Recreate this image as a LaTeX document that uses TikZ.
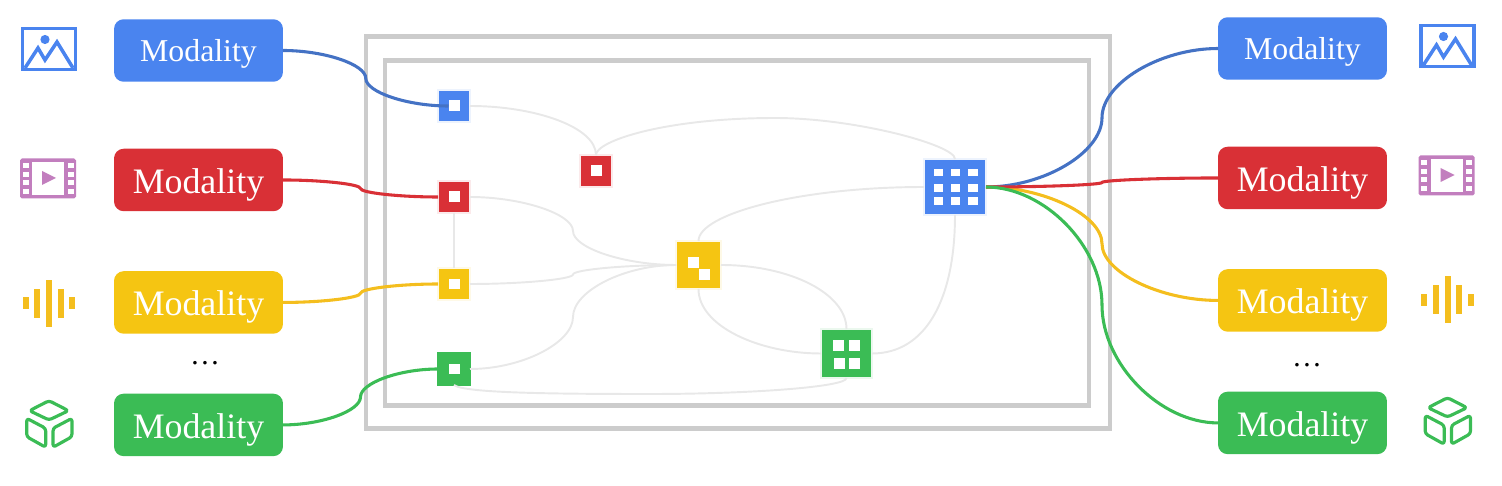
\documentclass[tikz,border=0pt]{standalone}
\usepackage{fontspec}
\setmainfont{Liberation Serif}
\usepackage{xcolor}
\usetikzlibrary{calc, positioning}
\definecolor{mBlue}{HTML}{4A84EF}
\definecolor{mRed}{HTML}{D93036}
\definecolor{mYellow}{HTML}{F5C512}
\definecolor{mGreen}{HTML}{3BBC55}
\definecolor{mPurple}{HTML}{C27EBE}
\definecolor{mWireBlue}{HTML}{4472C4}
\definecolor{mWireYellow}{HTML}{F4BE1E}
\definecolor{mFrame}{HTML}{CCCCCC}
\definecolor{mPale}{HTML}{E8E8E8}
% two bends that meet half way, vertical at the middle
\newcommand{\bump}[3]{
  \coordinate (mid) at ($(#1)!.5!(#2)$);
  \draw[#3] (#1) .. controls ($(#1)!.5!(mid |- #1)$) and ($(mid)!.5!(mid |- #1)$) .. (mid)
    .. controls ($(mid)!.5!(mid |- #2)$) and ($(#2)!.5!(mid |- #2)$) .. (#2);
}
\begin{document}
\begin{tikzpicture}[
  x=0.02cm, y=-0.02cm,
  node distance=1.2cm and 0.36cm,
  modbox/.style={fill=#1, rounded corners=5.5pt, minimum width=3.38cm, minimum height=1.25cm,
                 inner sep=0pt, outer sep=0pt, text=white, text height=15.3pt, text depth=0pt,
                 font=\fontsize{20.4}{24}\selectfont},
  smallbox/.style={modbox=#1, text height=12.7pt, font=\fontsize{18.1}{22}\selectfont},
  unit/.style={rectangle, fill=#1, draw=#1!10, line width=1.13pt, inner sep=0pt, outer sep=0pt,
               minimum size=0.64cm},
  cell/.style={fill=white, inner sep=0pt, outer sep=0pt, minimum size=0.22cm},
  wire/.style={line width=1.75pt, #1},
  soft/.style={line width=1.1pt, mPale},
  frame/.style={draw=mFrame, line width=2.8pt},
  pics/imgicon/.style={code={
    \draw[#1, line width=2pt] (-26.5,-20.5) rectangle (26.5,20.5);
    \draw[#1, line width=2pt] (-24,19) -- (-11,-1) -- (-4,11) -- (8,-7) -- (24,19);
    \fill[#1] (-4,-9.5) circle (4.6);
  }},
  pics/filmicon/.style={code={
    \fill[#1, rounded corners=1pt] (-28,-20) rectangle (28,20);
    \fill[white] (-16,-16.5) rectangle (16,16.5);
    \foreach \h in {-13,-4,4,13} {
      \fill[white] (-25.5,\h-2.8) rectangle (-19.5,\h+2.8);
      \fill[white] (19.5,\h-2.8) rectangle (25.5,\h+2.8);
    }
    \fill[#1] (-6,-7.5) -- (8,-0.5) -- (-6,6.5) -- cycle;
  }},
  pics/waveicon/.style={code={
    \foreach \u/\h in {-23.3/6, -11.7/14.5, 0/23.5, 11.7/14.5, 23.3/6}
      \fill[#1] (\u-3,-\h) rectangle (\u+3,\h);
  }},
  pics/cubeicon/.style={code={
    \begin{scope}[draw=#1, line width=1.8pt, line join=round, rounded corners=1.6pt]
      \draw (0,-23.3) -- (19.5,-13.3) -- (0,-4) -- (-19.5,-13.3) -- cycle;
      \draw (-22.3,-5.7) -- (-3.3,4.3) -- (-3.3,23.3) -- (-22.3,12.7) -- cycle;
      \draw (4,4.3) -- (23,-5.7) -- (23,12.7) -- (4,23.3) -- cycle;
    \end{scope}
  }}]
  \useasboundingbox (0,0) rectangle (1502,486);
  % frames
  \draw[frame] (366,36.5) rectangle (1110,428.5);
  \draw[frame] (385,60.5) rectangle (1089,405.5);
  % modalities, left
  \node[smallbox=mBlue] (mb) at (198.5,50.5) {Modality};
  \node[modbox=mRed, below=1.34cm of mb] (mr) {Modality};
  \node[modbox=mYellow, below=of mr] (my) {Modality};
  \node[modbox=mGreen, below=of my] (mg) {Modality};
  % modalities, right
  \node[smallbox=mBlue] (nb) at (1302.5,48.5) {Modality};
  \node[modbox=mRed, below=1.34cm of nb] (nr) {Modality};
  \node[modbox=mYellow, below=of nr] (ny) {Modality};
  \node[modbox=mGreen, below=of ny] (ng) {Modality};
  \node[anchor=base, font=\fontsize{17}{20}\selectfont] (dl) at (205,364) {\dots};
  \node[anchor=base, font=\fontsize{17}{20}\selectfont] (dr) at (1307,367) {\dots};
  % icons
  \foreach \u/\v/\w/\z in {49/49/424/303.3, 1447.5/46/421/300} {
    \pic at (\u,\v) {imgicon=mBlue};
    \pic at (\u,\w) {cubeicon=mGreen};
    \pic at (\u,\z) {waveicon=mWireYellow};
  }
  \pic at (48,178.5) {filmicon=mPurple};
  \pic at (1446.5,175.5) {filmicon=mPurple};
  % units
  \node[unit=mBlue] (ub) at (454,106) {};
  \node[unit=mRed] (ur) at (454,197) {};
  \node[unit=mYellow] (uy) at (454,284) {};
  \node[unit=mGreen, draw=mGreen] (ug) at (454,369) {};
  \node[unit=mRed] (sr) at (596,171) {};
  \node[unit=mYellow, minimum width=0.9cm, minimum height=0.96cm] (sy) at (698.5,265) {};
  \node[unit=mGreen, minimum width=1.02cm, minimum height=0.98cm] (sg) at (846.5,353.5) {};
  \node[unit=mBlue, minimum width=1.24cm, minimum height=1.12cm] (sb) at (955,187) {};
  % pale links
  \coordinate (ta) at (775,118);
  \coordinate (tb) at (650,394);
  \draw[soft] (ub.east) .. controls +(65,0) and +(0,-28) .. (sr.north);
  \draw[soft] (sr.north) .. controls +(0,-14) and +(-110,0) .. (ta) .. controls +(80,0) and +(0,-14) .. (sb.north);
  \draw[soft] (ur.south) -- (uy.north);
  \bump{ur.east}{sy.west}{soft}
  \bump{uy.east}{sy.west}{soft}
  \bump{ug.east}{sy.west}{soft}
  \draw[soft] (ug.south) .. controls +(10,8) and +(-100,0) .. (tb) .. controls +(100,0) and +(0,9) .. (sg.south);
  \draw[soft] (sy.north) .. controls +(0,-27) and +(-125,0) .. (sb.west);
  \draw[soft] (sy.east) .. controls +(70,0) and +(0,-35) .. (sg.north);
  \draw[soft] (sy.south) .. controls +(0,37) and +(-62,0) .. (sg.west);
  \draw[soft] (sg.east) .. controls +(54,0) and +(0,84) .. (sb.south);
  % cells
  \foreach \n in {ub,ur,uy,ug,sr}
    \node[cell] (\n c) at (\n) {};
  \node[cell] (sy1) at (693.5,263) {};
  \node[cell] (sy2) at (704.5,274.5) {};
  \foreach \n/\u/\v in {1/838.5/345.5, 2/854.5/345.5, 3/839.5/363.5, 4/854.5/363.5}
    \node[cell] (sg\n) at (\u,\v) {};
  \foreach \n/\u in {1/938.5, 2/955.5, 3/973} {
    \node[cell, minimum width=0.19cm, minimum height=0.15cm] (sba\n) at (\u,172.5) {};
    \node[cell, minimum width=0.19cm, minimum height=0.16cm] (sbb\n) at (\u,188) {};
    \node[cell, minimum width=0.19cm, minimum height=0.16cm] (sbc\n) at (\u,201) {};
  }
  % coloured links
  \bump{mb.east}{ubc.west}{wire=mWireBlue}
  \bump{mr.east}{ur.west}{wire=mRed}
  \bump{my.east}{uy.west}{wire=mWireYellow}
  \bump{mg.east}{ug.west}{wire=mGreen}
  \bump{sb.east}{nb.west}{wire=mWireBlue}
  \bump{sb.east}{ny.west}{wire=mWireYellow}
  \bump{sb.east}{nr.west}{wire=mRed}
  \bump{sb.east}{ng.west}{wire=mGreen}
\end{tikzpicture}
\end{document}
